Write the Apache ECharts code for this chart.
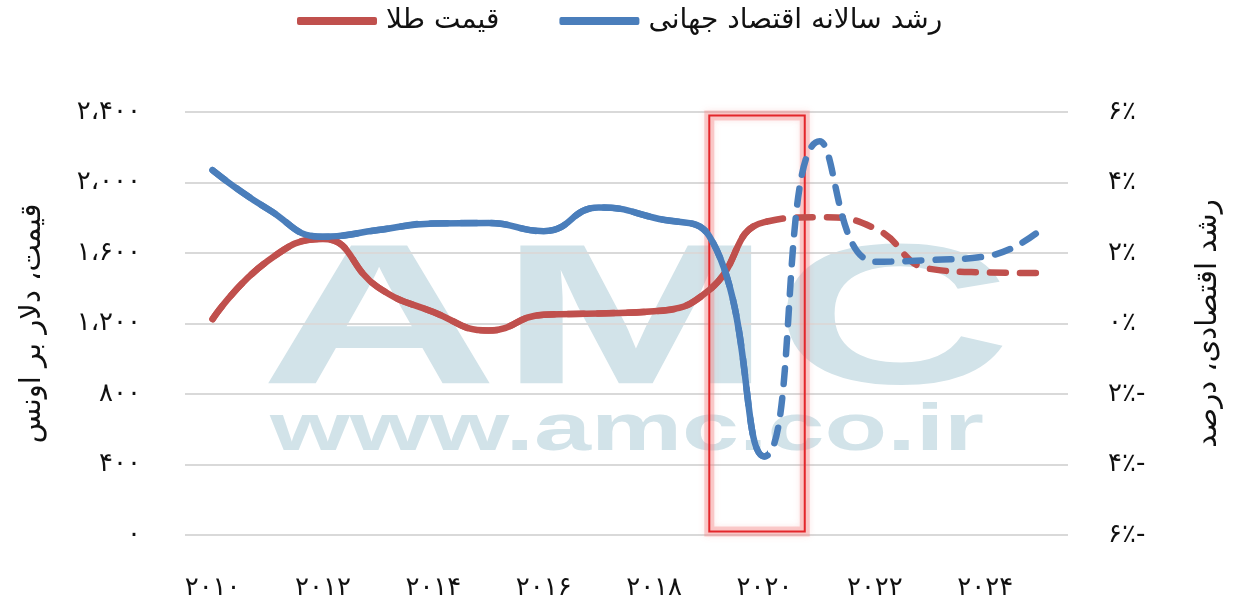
<!DOCTYPE html>
<html>
<head>
<meta charset="UTF-8">
<title>قیمت طلا و رشد اقتصاد جهانی</title>
<script src="https://cdn.jsdelivr.net/npm/echarts@6/dist/echarts.min.js"></script>
<style>
  html, body { margin: 0; padding: 0; background: #fff; }
  #chart { width: 1233px; height: 610px; }
</style>
</head>
<body>
<div id="chart"></div>
<script>
  // annual values
  var years = [2010, 2011, 2012, 2013, 2014, 2015, 2016, 2017, 2018, 2019, 2020, 2021, 2022, 2023, 2024, 2025];
  var goldPrice = [1225, 1555, 1680, 1405, 1265, 1160, 1250, 1257, 1269, 1390, 1775, 1803, 1740, 1510, 1490, 1486];
  var worldGrowth = [4.35, 3.25, 2.46, 2.65, 2.84, 2.85, 2.62, 3.29, 3.0, 2.48, -3.77, 5.17, 1.75, 1.8, 1.9, 2.65];
  var labelYears = [2010, 2012, 2014, 2016, 2018, 2020, 2022, 2024];
  var forecastFrom = 2020;          // lines turn dashed from here on
  var highlightYears = [2019, 2020.73];

  var RED = '#c0504d', BLUE = '#4a7ebb';
  var FONT = 'DejaVu Sans';
  var goldName = 'قیمت طلا';
  var growthName = 'رشد سالانه اقتصاد جهانی';

  // plot box; the solid part lives in a second grid cut at forecastFrom
  var W = 1233, plotLeft = 185, plotRight = 1068, xMin = 2009.5, xMax = 2025.5;
  var cutX = plotLeft + (forecastFrom - xMin) / (xMax - xMin) * (plotRight - plotLeft);

  function toFa(n) {
    return String(n).replace(/\d/g, function (d) { return '۰۱۲۳۴۵۶۷۸۹'[d]; });
  }
  function priceLabel(v) {
    var s = toFa(v);
    if (v >= 1000) s = s.slice(0, s.length - 3) + '،' + s.slice(s.length - 3);
    return s;
  }
  function pctLabel(v) {
    return v < 0 ? toFa(-v) + '٪-' : toFa(v) + '٪';
  }
  function pairs(vals) {
    return years.map(function (y, i) { return [y, vals[i]]; });
  }

  function lineSeries(name, color, xi, yi, vals, dashed) {
    return {
      name: name,
      type: 'line',
      xAxisIndex: xi,
      yAxisIndex: yi,
      color: color,
      smooth: 0.5,
      showSymbol: false,
      silent: true,
      lineStyle: { width: 6.5, color: color, cap: 'round', type: dashed ? [16, 14] : 'solid' },
      data: pairs(vals)
    };
  }

  function hiddenY(grid, min, max) {
    return { type: 'value', gridIndex: grid, min: min, max: max, show: false };
  }

  var chart = echarts.init(document.getElementById('chart'), null, { renderer: 'canvas' });

  var growthDashed = lineSeries(growthName, BLUE, 0, 1, worldGrowth, true);
  growthDashed.markArea = {
    silent: true,
    data: [
      [
        { coord: [highlightYears[0], -5.9], itemStyle: { color: 'rgba(0,0,0,0)', borderColor: 'rgba(245,140,140,0.4)', borderWidth: 10, shadowBlur: 6, shadowColor: 'rgba(245,140,140,0.5)' } },
        { coord: [highlightYears[1], 5.9] }
      ],
      [
        { coord: [highlightYears[0], -5.9], itemStyle: { color: 'rgba(0,0,0,0)', borderColor: '#e3262b', borderWidth: 2 } },
        { coord: [highlightYears[1], 5.9] }
      ]
    ]
  };

  chart.setOption({
    animation: false,
    backgroundColor: '#fff',
    textStyle: { fontFamily: FONT },
    graphic: [
      {
        type: 'text', x: 260, y: 228, scaleX: 1.65, z: -10, silent: true,
        style: { text: 'AMC', fontFamily: 'Liberation Sans', fontWeight: 'bold', fontSize: 200, fill: '#d2e3e9' }
      },
      {
        type: 'text', x: 270, y: 398, scaleX: 1.53, z: -10, silent: true,
        style: { text: 'www.amc.co.ir', fontFamily: 'Liberation Sans', fontWeight: 'bold', fontSize: 67, fill: '#d2e3e9' }
      }
    ],
    legend: {
      top: 7,
      left: 297,
      padding: 0,
      data: [goldName, growthName],
      icon: 'roundRect',
      itemWidth: 80,
      itemHeight: 8,
      itemGap: 60,
      textStyle: { fontSize: 28, color: '#111', fontFamily: FONT, padding: [0, 0, 0, 4] }
    },
    grid: [
      { left: plotLeft, right: W - plotRight, top: 112, bottom: 75 },
      { left: plotLeft, right: W - cutX, top: 112, bottom: 75 }
    ],
    xAxis: [
      {
        type: 'value',
        min: xMin,
        max: xMax,
        axisLine: { show: false },
        axisTick: { show: false },
        splitLine: { show: false },
        axisLabel: {
          customValues: labelYears,
          formatter: function (v) { return toFa(v); },
          margin: 40,
          fontSize: 26,
          color: '#111'
        }
      },
      { type: 'value', gridIndex: 1, min: xMin, max: forecastFrom, show: false }
    ],
    yAxis: [
      {
        type: 'value',
        min: 0, max: 2400, interval: 400,
        name: 'قیمت، دلار بر اونس',
        nameLocation: 'middle',
        nameGap: 138,
        nameTextStyle: { fontSize: 29, color: '#111' },
        axisLine: { show: false },
        axisTick: { show: false },
        splitLine: { lineStyle: { color: '#d9d9d9', width: 2 } },
        axisLabel: { formatter: priceLabel, margin: 44, fontSize: 26, color: '#111' }
      },
      {
        type: 'value',
        min: -6, max: 6, interval: 2,
        name: 'رشد اقتصادی، درصد',
        nameLocation: 'middle',
        nameGap: 126,
        nameTextStyle: { fontSize: 29, color: '#111' },
        axisLine: { show: false },
        axisTick: { show: false },
        splitLine: { show: false },
        axisLabel: { formatter: pctLabel, margin: 40, fontSize: 26, color: '#111' }
      },
      hiddenY(1, 0, 2400),
      hiddenY(1, -6, 6)
    ],
    series: [
      lineSeries(goldName, RED, 0, 0, goldPrice, true),
      lineSeries(goldName, RED, 1, 2, goldPrice, false),
      growthDashed,
      lineSeries(growthName, BLUE, 1, 3, worldGrowth, false)
    ]
  });
</script>
</body>
</html>
